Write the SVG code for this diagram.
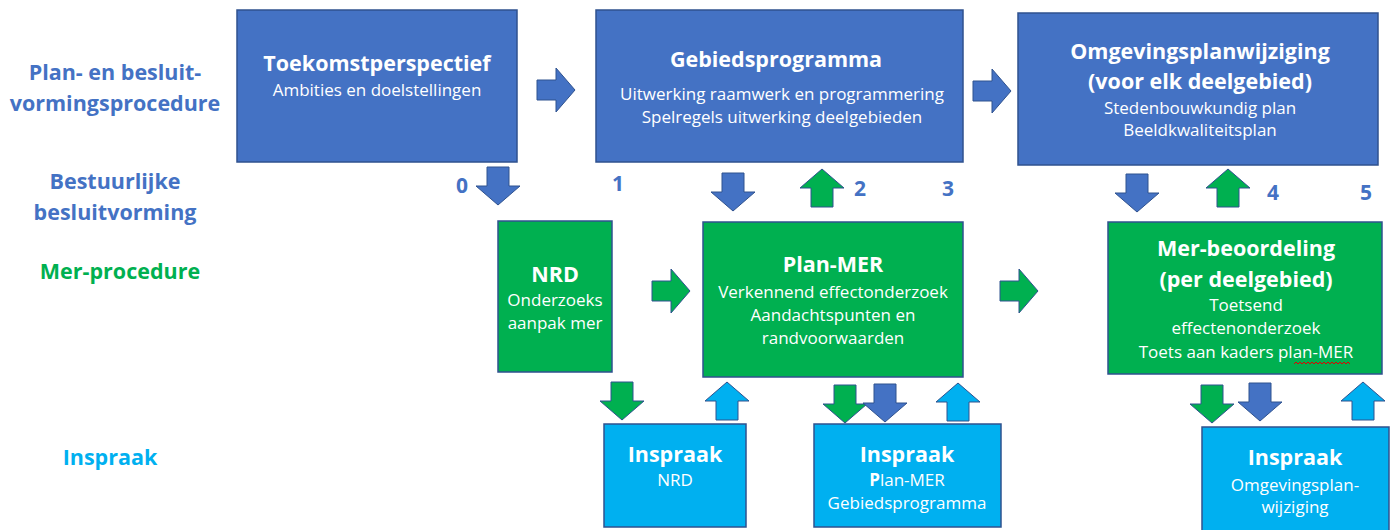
<svg xmlns="http://www.w3.org/2000/svg" width="1395" height="530" viewBox="0 0 1395 530">
<style>
text{font-family:"Open Sans",Lato,"Liberation Sans",sans-serif;text-anchor:middle}
.lbl{font-weight:bold;font-size:21.5px}
.t{font-weight:bold;font-size:21.5px;fill:#fff}
.b{font-size:17px;fill:#fff}
.num{font-weight:bold;font-size:21px;fill:#4472C4}
.bb{fill:#4472C4;stroke:#2F528F;stroke-width:1.5}
.gb{fill:#00B050;stroke:#2F528F;stroke-width:1.5}
.lb{fill:#00B0F0;stroke:#2F528F;stroke-width:1.5}
</style>
<defs>
<path id="ar" d="M0,-10 H19 V-22 L38,0 L19,22 V10 H0 Z"/>
<path id="ad" d="M-11,0 H11 V19 H22 L0,38 L-22,19 H-11 Z"/>
<path id="au" d="M-11,38 H11 V19 H22 L0,0 L-22,19 H-11 Z"/>
</defs>
<rect width="1395" height="530" fill="#fff"/>
<g id="labels">
<text class="lbl" x="115" y="80" fill="#4472C4">Plan- en besluit-</text>
<text class="lbl" x="115" y="111" fill="#4472C4">vormingsprocedure</text>
<text class="lbl" x="115" y="189" fill="#4472C4">Bestuurlijke</text>
<text class="lbl" x="115" y="220" fill="#4472C4">besluitvorming</text>
<text class="lbl" x="120" y="279" fill="#00B050">Mer-procedure</text>
<text class="lbl" x="110" y="465" fill="#00B0F0">Inspraak</text>
</g>
<g id="numbers">
<text class="num" x="462" y="193">0</text>
<text class="num" x="618" y="191">1</text>
<text class="num" x="860" y="196">2</text>
<text class="num" x="948" y="196">3</text>
<text class="num" x="1273" y="200">4</text>
<text class="num" x="1366" y="200">5</text>
</g>
<g id="toekomstperspectief">
<rect class="bb" x="237" y="10" width="280" height="152"/>
<text class="t" x="377" y="71">Toekomstperspectief</text>
<text class="b" x="377" y="96">Ambities en doelstellingen</text>
</g>
<g id="gebiedsprogramma">
<rect class="bb" x="596" y="10" width="367" height="152"/>
<text class="t" x="776" y="67">Gebiedsprogramma</text>
<text class="b" x="782" y="100">Uitwerking raamwerk en programmering</text>
<text class="b" x="782" y="123">Spelregels uitwerking deelgebieden</text>
</g>
<g id="omgevingsplanwijziging">
<rect class="bb" x="1018" y="13" width="360" height="152"/>
<text class="t" x="1200" y="59">Omgevingsplanwijziging</text>
<text class="t" x="1200" y="89">(voor elk deelgebied)</text>
<text class="b" x="1200" y="114">Stedenbouwkundig plan</text>
<text class="b" x="1200" y="136">Beeldkwaliteitsplan</text>
</g>
<g id="nrd">
<rect class="gb" x="498" y="221" width="114" height="151"/>
<text class="t" x="555" y="282">NRD</text>
<text class="b" x="555" y="306">Onderzoeks</text>
<text class="b" x="555" y="329">aanpak mer</text>
</g>
<g id="plan-mer">
<rect class="gb" x="703" y="222" width="260" height="155"/>
<text class="t" x="833" y="272">Plan-MER</text>
<text class="b" x="833" y="298">Verkennend effectonderzoek</text>
<text class="b" x="833" y="321">Aandachtspunten en</text>
<text class="b" x="833" y="344">randvoorwaarden</text>
</g>
<g id="mer-beoordeling">
<rect class="gb" x="1108" y="222" width="274" height="152"/>
<text class="t" x="1246" y="256">Mer-beoordeling</text>
<text class="t" x="1246" y="287">(per deelgebied)</text>
<text class="b" x="1246" y="311">Toetsend</text>
<text class="b" x="1246" y="334">effectenonderzoek</text>
<text class="b" x="1246" y="358">Toets aan kaders plan-MER</text>
<path d="M1294,364 l2,-2 l2,2 l2,-2 l2,2 l2,-2 l2,2 l2,-2 l2,2 l2,-2 l2,2 l2,-2 l2,2 l2,-2 l2,2 l2,-2 l2,2 l2,-2 l2,2 l2,-2 l2,2 l2,-2 l2,2 l2,-2 l2,2 l2,-2 l2,2 l2,-2 l2,2" fill="none" stroke="#E00000" stroke-width="1"/>
</g>
<g id="inspraak-nrd">
<rect class="lb" x="604" y="424" width="142" height="103"/>
<text class="t" x="675" y="462">Inspraak</text>
<text class="b" x="675" y="486">NRD</text>
</g>
<g id="inspraak-planmer">
<rect class="lb" x="814" y="424" width="187" height="103"/>
<text class="t" x="907" y="462">Inspraak</text>
<text class="b" x="907" y="486"><tspan font-weight="bold">P</tspan>lan-MER</text>
<text class="b" x="907" y="509">Gebiedsprogramma</text>
</g>
<g id="inspraak-omgevingsplan">
<rect class="lb" x="1202" y="427" width="187" height="106"/>
<text class="t" x="1295" y="465">Inspraak</text>
<text class="b" x="1295" y="491">Omgevingsplan-</text>
<text class="b" x="1295" y="513">wijziging</text>
</g>
<g id="connectors" stroke-width="1">
<use href="#ar" x="537" y="90" fill="#4472C4" stroke="#2F528F"/>
<use href="#ar" x="973" y="91" fill="#4472C4" stroke="#2F528F"/>
<use href="#ad" x="498" y="167" fill="#4472C4" stroke="#2F528F"/>
<use href="#ad" x="733" y="173" fill="#4472C4" stroke="#2F528F"/>
<use href="#au" x="822" y="169" fill="#00B050" stroke="#2F528F"/>
<use href="#ad" x="1137" y="174" fill="#4472C4" stroke="#2F528F"/>
<use href="#au" x="1228" y="169" fill="#00B050" stroke="#2F528F"/>
<use href="#ar" x="652" y="291" fill="#00B050" stroke="#2F528F"/>
<use href="#ar" x="1000" y="291" fill="#00B050" stroke="#2F528F"/>
<use href="#ad" x="622" y="382" fill="#00B050" stroke="#2F528F"/>
<use href="#au" x="727" y="382" fill="#00B0F0" stroke="#2F528F"/>
<use href="#ad" x="845" y="385" fill="#00B050" stroke="#2F528F"/>
<use href="#ad" x="885" y="384" fill="#4472C4" stroke="#2F528F"/>
<use href="#au" x="958" y="383" fill="#00B0F0" stroke="#2F528F"/>
<use href="#ad" x="1212" y="385" fill="#00B050" stroke="#2F528F"/>
<use href="#ad" x="1260" y="383" fill="#4472C4" stroke="#2F528F"/>
<use href="#au" x="1363" y="382" fill="#00B0F0" stroke="#2F528F"/>
</g>
</svg>
